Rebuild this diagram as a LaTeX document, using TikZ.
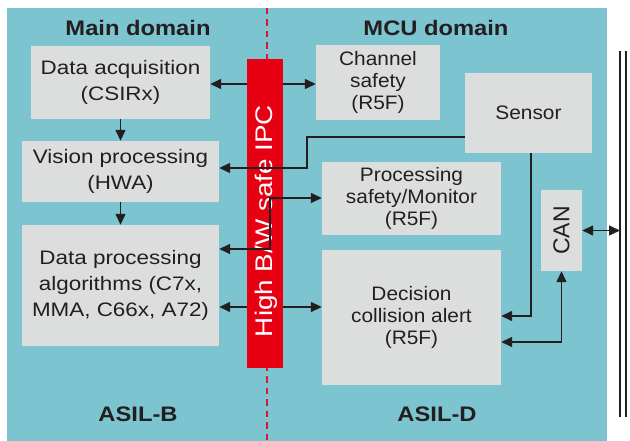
\documentclass[tikz,border=0pt]{standalone}
\usepackage{fontspec}
\setmainfont{Liberation Sans}
\newfontfamily\leftfont{Liberation Sans}[FakeStretch=1.15]
\newfontfamily\rightfont{Liberation Sans}[FakeStretch=1.07]
\newfontfamily\titlefont{Liberation Sans}[FakeStretch=1.13]
\newfontfamily\ipcfont{Liberation Sans}[FakeStretch=1.16]
\usetikzlibrary{arrows.meta}
\definecolor{tealbg}{RGB}{124,196,208}
\definecolor{boxgray}{RGB}{220,222,222}
\definecolor{ipcred}{RGB}{230,0,18}
\definecolor{ink}{RGB}{35,31,32}
\definecolor{dashred}{RGB}{215,25,55}
\tikzset{
  box/.style={fill=boxgray, inner sep=0pt, align=center, text=ink},
  lbox/.style={box, font=\leftfont\fontsize{19.5}{26}\selectfont},
  rbox/.style={box, font=\rightfont\fontsize{19.5}{22}\selectfont},
  title/.style={anchor=base, text=ink, font=\titlefont\bfseries\fontsize{21}{25}\selectfont},
  tip/.tip={Triangle[length=11pt,width=10pt]},
  conn/.style={draw=ink, line width=1.4pt, -tip},
  bconn/.style={draw=ink, line width=1.4pt, tip-tip},
  busline/.style={draw=ink},
}
\begin{document}
\begin{tikzpicture}[x=1pt,y=-1pt]
\useasboundingbox (0,0) rectangle (630,441);
\fill[tealbg] (7,8) rectangle (607,441);
\draw[draw=dashred, line width=1.3pt, dash pattern=on 6.5pt off 5pt] (267,8) -- (267,441);

% titles
\node[title] (tmain) at (138,36) {Main domain};
\node[title] (tmcu) at (436,36) {MCU domain};
\node[title] (asilb) at (138,421) {ASIL-B};
\node[title] (asild) at (437,421) {ASIL-D};

% boxes
\node[lbox, minimum width=179pt, minimum height=73pt] (acq) at (120.5,82.5) {Data acquisition\\(CSIRx)};
\node[lbox, minimum width=197pt, minimum height=61pt] (vis) at (120.5,171.5) {Vision processing\\(HWA)};
\node[lbox, minimum width=197pt, minimum height=121pt] (dp) at (120.5,285.5) {Data processing\\algorithms (C7x,\\MMA, C66x, A72)};
\node[rbox, minimum width=124pt, minimum height=75pt] (chan) at (378,82.5) {Channel\\safety\\(R5F)};
\node[rbox, minimum width=127pt, minimum height=80pt] (sen) at (528.5,113) {Sensor};
\node[rbox, minimum width=179pt, minimum height=73pt] (ps) at (411.5,198.5) {Processing\\safety/Monitor\\(R5F)};
\node[rbox, minimum width=179pt, minimum height=135pt] (dec) at (411.5,317.5) {Decision\\collision alert\\(R5F)};
\node[box, minimum width=41pt, minimum height=81pt] (can) at (561.5,230.5) {};
\node[rotate=90, text=ink, font=\fontsize{23}{27}\selectfont] (canlabel) at (can.center) {CAN};

% bus
\coordinate (busTop) at (620,51);
\coordinate (busBot) at (620,417);
\coordinate (busTop2) at (626,51);
\coordinate (busBot2) at (626,417);
\draw[busline, line width=1.2pt] (busTop) -- (busBot);
\draw[busline, line width=2.2pt] (busTop2) -- (busBot2);

% connectors hidden behind the IPC bar
\draw[bconn] (acq.east |- 0,84) -- (chan.west |- 0,84);
\draw[bconn] (dp.east |- 0,307) -- (dec.west |- 0,307);

% IPC bar
\node[fill=ipcred, inner sep=0pt, minimum width=36pt, minimum height=309pt] (ipc) at (265,213.5) {};
\node[rotate=90, anchor=base, text=white, inner sep=0pt, font=\ipcfont\fontsize{24}{28}\selectfont] (ipclabel) at (272,221) {High B/W safe IPC};

% connectors over the bar
\draw[conn] (acq.south) -- (vis.north);
\draw[conn] (vis.south) -- (dp.north);
\draw[conn] (sen.west |- 0,137) -- (307,137) -- (307,168) -- (vis.east |- 0,168);
\draw[bconn] (dp.east |- 0,249) -- (270,249) -- (270,198) -- (ps.west |- 0,198);
\draw[conn] (sen.south -| 531,0) -- (531,316) -- (dec.east |- 0,316);
\draw[bconn] (dec.east |- 0,342) -| (can.south);
\draw[bconn] (can.east) -- (busTop |- can.east);
\end{tikzpicture}
\end{document}
